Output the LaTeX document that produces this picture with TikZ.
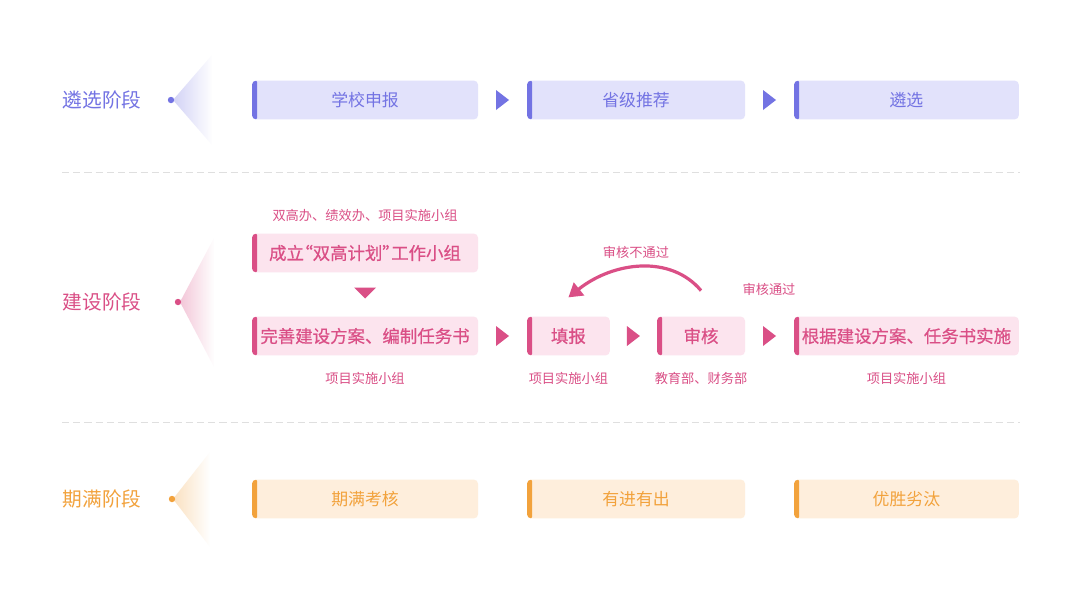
\documentclass[tikz,border=0pt]{standalone}
\usepackage{fontspec}
\setmainfont{Noto Sans CJK SC}
\newfontfamily\cjkmed[FakeBold=0.6]{Noto Sans CJK SC}
\usetikzlibrary{arrows.meta,fadings,calc}

\definecolor{pu}{HTML}{7373E3}
\definecolor{pufill}{HTML}{E2E2FB}
\definecolor{pk}{HTML}{DA4F86}
\definecolor{pkfill}{HTML}{FCE4EE}
\definecolor{og}{HTML}{F2A23C}
\definecolor{ogfill}{HTML}{FEEEDC}
\tikzfading[name=fade east, left color=transparent!68, right color=transparent!100]

\begin{document}
\begin{tikzpicture}[x=0.025cm, y=-0.025cm,
    every node/.style={inner sep=0pt, outer sep=0pt},
    box/.style={anchor=west, minimum height=0.97cm, rounded corners=3pt,
        fill=#1fill, text=#1, font=\fontsize{12}{14}\selectfont,
        path picture={\fill[#1, rounded corners=1.5pt]
            (path picture bounding box.north west) rectangle
            ([xshift=0.13cm]path picture bounding box.south west);}},
    bold/.style={font=\fontsize{12.4}{14}\selectfont\cjkmed},
    stage/.style={text=#1, font=\fontsize{14}{16}\selectfont},
    dot/.style={circle, fill=#1, minimum size=0.16cm},
    note/.style={text=pk, font=\fontsize{9.4}{11}\selectfont},
    sep/.style={gray!25, line width=0.7pt, dash pattern=on 5pt off 3pt}]
    \fill[white] (0,0) rectangle (1080,608);
    \useasboundingbox (0,0) rectangle (1080,608);

    \node[stage=pu] at (102,100) (t1) {遴选阶段};
    \node[stage=pk] at (102,302) (t2) {建设阶段};
    \node[stage=og] at (102,499) (t3) {期满阶段};

    \fill[pu, path fading=fade east] (173,100) -- (212,55) -- (212,145) -- cycle;
    \fill[pk, path fading=fade east] (180,302) -- (214,238) -- (214,367) -- cycle;
    \fill[og, path fading=fade east] (173,499) -- (210,452) -- (210,547) -- cycle;
    \node[dot=pu] at (171,100) (d1) {};
    \node[dot=pk] at (178,302) (d2) {};
    \node[dot=og] at (172,499) (d3) {};

    \draw[sep] (62,172) -- (1020,172);
    \draw[sep] (62,422) -- (1020,422);

    \node[box=pu, minimum width=5.65cm] at (252,100) (s1) {学校申报};
    \node[box=pu, minimum width=5.45cm] at (527,100) (s2) {省级推荐};
    \node[box=pu, minimum width=5.62cm] at (794,100) (s3) {遴选};

    \node[box=pk, bold, minimum width=5.65cm] at (252,253) (j0)
        {\addfontfeatures{RawFeature=+palt}成立“双高计划”工作小组};
    \node[box=pk, bold, minimum width=5.65cm] at (252,336) (j1) {完善建设方案、编制任务书};
    \node[box=pk, bold, minimum width=2.07cm] at (527,336) (j2) {填报};
    \node[box=pk, bold, minimum width=2.2cm] at (657,336) (j3) {审核};
    \node[box=pk, bold, minimum width=5.62cm] at (794,336) (j4) {根据建设方案、任务书实施};

    \node[box=og, minimum width=5.65cm] at (252,499) (q1) {期满考核};
    \node[box=og, minimum width=5.45cm] at (527,499) (q2) {有进有出};
    \node[box=og, minimum width=5.62cm] at (794,499) (q3) {优胜劣汰};

    \node[note, yshift=0.45cm] at (j0.north) (n0) {双高办、绩效办、项目实施小组};
    \node[note, yshift=-0.57cm] at (j1.south) (n1) {项目实施小组};
    \node[note, yshift=-0.57cm] at (j2.south) (n2) {项目实施小组};
    \node[note, yshift=-0.57cm] at (j3.south) (n3) {教育部、财务部};
    \node[note, yshift=-0.57cm] at (j4.south) (n4) {项目实施小组};
    \node[note] at (636,252) (r0) {审核不通过};
    \node[note] at (769,289) (r1) {审核通过};

    \foreach \a/\b in {s1/s2, s2/s3}
        \fill[pu] ($(\a.east)!.5!(\b.west)$) ++(-6.5,-10) -- ++(13,10) -- ++(-13,10) -- cycle;
    \foreach \a/\b in {j1/j2, j2/j3, j3/j4}
        \fill[pk] ($(\a.east)!.5!(\b.west)$) ++(-6.5,-10) -- ++(13,10) -- ++(-13,10) -- cycle;
    \fill[pk] ($(j0.south)!.5!(j1.north)$) ++(-11,-7) -- ++(22,0) -- ++(-11,11) -- cycle;

    \draw[pk, line width=0.08cm, -{Triangle[length=0.34cm, width=0.4cm]}]
        ([yshift=0.65cm]j3.north) .. controls +(-30,-36) and +(45,-36)
        .. ([yshift=0.48cm]j2.north);
\end{tikzpicture}
\end{document}
